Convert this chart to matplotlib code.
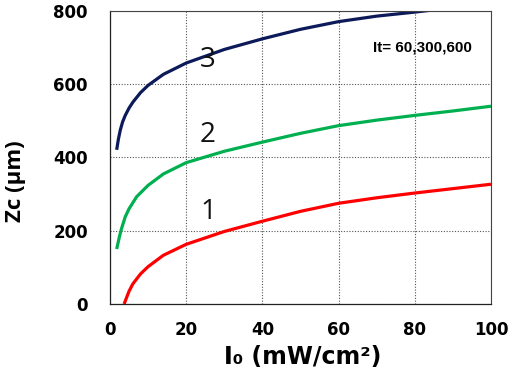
import matplotlib
matplotlib.use("Agg")
import matplotlib.pyplot as plt

# Curve 1 (red)
x1 = [3.7, 5, 6, 8, 10, 14, 20, 30, 40, 50, 60, 70, 80, 90, 100]
y1 = [0, 35, 55, 82, 102, 133, 163, 198, 226, 253, 275, 290, 303, 315, 327]
# Curve 2 (green)
x2 = [1.75, 2.5, 3, 4, 5, 7, 10, 14, 20, 30, 40, 50, 60, 70, 80, 90, 100]
y2 = [150, 185, 205, 238, 260, 293, 324, 355, 386, 417, 442, 466, 487, 502, 515, 527, 540]
# Curve 3 (navy)
x3 = [1.75, 2.2, 2.7, 3.3, 4, 5, 6, 8, 10, 14, 20, 30, 40, 50, 60, 70, 80, 85]
y3 = [421, 450, 475, 497, 515, 535, 551, 577, 597, 627, 658, 695, 724, 750, 771, 786, 797, 803]

curve_labels = ["1", "2", "3"]
label_x = [25.7, 25.7, 25.7]
label_y = [251, 462, 667]

xticks = [0, 20, 40, 60, 80, 100]
yticks = [0, 200, 400, 600, 800]

fig = plt.figure(figsize=(5.1, 3.73), dpi=100)
ax = fig.add_axes([0.2157, 0.185, 0.7470, 0.7855])

ax.plot(x1, y1, color="#ff0000", lw=2.3, solid_capstyle="butt")
ax.plot(x2, y2, color="#00b050", lw=2.3, solid_capstyle="butt")
ax.plot(x3, y3, color="#0c1a5a", lw=2.3, solid_capstyle="butt")

ax.set_xlim(0, 100)
ax.set_ylim(0, 800)
ax.set_xticks(xticks)
ax.set_yticks(yticks)
ax.grid(True, color="#555555", linestyle=(0, (1, 1.5)), lw=0.8)
ax.tick_params(length=0)
for lab in ax.get_xticklabels() + ax.get_yticklabels():
    lab.set_fontweight("bold")
    lab.set_fontsize(12)
    lab.set_family("DejaVu Sans")
ax.tick_params(axis="y", pad=16)
ax.tick_params(axis="x", pad=12)

for s in ["left", "bottom"]:
    ax.spines[s].set_color("#222222")
    ax.spines[s].set_linewidth(0.9)
for s in ["top", "right"]:
    ax.spines[s].set_color("#444444")
    ax.spines[s].set_linewidth(0.8)

for t, xx, yy in zip(curve_labels, label_x, label_y):
    ax.text(xx, yy, t, fontsize=20, family="Open Sans", ha="center", va="center", color="#111111")

ax.text(82, 699, "It= 60,300,600", fontsize=11, fontweight="bold", family="Liberation Sans",
        ha="center", va="center")

fig.text(303 / 510, 1 - 357 / 373, "I₀ (mW/cm²)", fontsize=17,
         fontweight="bold", family="DejaVu Sans", ha="center", va="center")
fig.text(16 / 510, 1 - 181 / 373, "Zc (μm)", fontsize=16, fontweight="bold",
         family="Open Sans", ha="center", va="center", rotation=90)

fig.savefig("out.png", dpi=100)
